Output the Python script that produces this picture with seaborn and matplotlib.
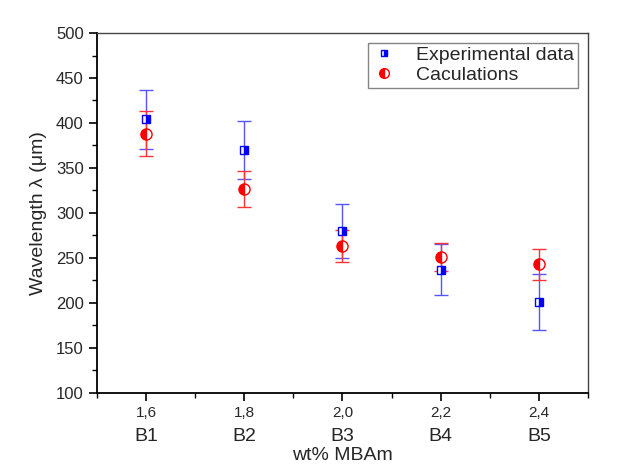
import numpy as np
import matplotlib.pyplot as plt
import seaborn as sns
from matplotlib.lines import Line2D
from matplotlib.ticker import MultipleLocator
from matplotlib.transforms import blended_transform_factory

# data
wt_mbam = [1.6, 1.8, 2.0, 2.2, 2.4]
tick_labels = ["1,6", "1,8", "2,0", "2,2", "2,4"]
sample_names = ["B1", "B2", "B3", "B4", "B5"]
exp_vals = [404, 370, 280, 237, 201]
exp_err = [33, 32, 30, 28, 31]
calc_vals = [388, 327, 263, 251, 243]
calc_err = [25, 20, 18, 16, 17]

sns.set_theme(style="ticks")
plt.rcParams['font.family'] = ['Liberation Sans', 'DejaVu Sans']

fig = plt.figure(figsize=(6.17, 4.65), dpi=100)
ax = fig.add_axes([0.157, 0.155, 0.796, 0.774])

ax.errorbar(wt_mbam, exp_vals, yerr=exp_err, fmt='s', color='#0000ff',
            ecolor='#5555ff', elinewidth=1.0, capsize=5, capthick=1.0,
            markersize=6, fillstyle='right', markerfacecoloralt='white',
            markeredgewidth=1.0, zorder=3)
ax.errorbar(wt_mbam, calc_vals, yerr=calc_err, fmt='o', color='#ff0000',
            ecolor='#ff3333', elinewidth=1.0, capsize=5, capthick=1.0,
            markersize=8, fillstyle='left', markerfacecoloralt='white',
            markeredgewidth=1.0, zorder=3)

ax.set_xlim(1.5, 2.5)
ax.set_ylim(100, 500)
ax.xaxis.set_minor_locator(MultipleLocator(0.1))
ax.yaxis.set_major_locator(MultipleLocator(50))
ax.yaxis.set_minor_locator(MultipleLocator(25))
ax.set_xticks(wt_mbam)
ax.set_xticklabels(tick_labels, fontsize=11)
ax.tick_params(axis='y', labelsize=12)
ax.tick_params(which='major', direction='out', length=6, width=1.2, color='black')
ax.tick_params(which='minor', direction='out', length=3.5, width=1.0, color='black')
ax.tick_params(top=False, right=False, which='both')

for side in ['left', 'bottom']:
    ax.spines[side].set_linewidth(1.3)
    ax.spines[side].set_color('black')
for side in ['top', 'right']:
    ax.spines[side].set_linewidth(1.0)
    ax.spines[side].set_color('#444444')

# second row of x labels: sample names
trans = blended_transform_factory(ax.transData, ax.transAxes)
for x, name in zip(wt_mbam, sample_names):
    ax.text(x, -0.12, name, transform=trans, ha='center', va='center', fontsize=14)

ax.set_ylabel("Wavelength λ (μm)", fontsize=14, labelpad=6)
ax.set_xlabel("wt% MBAm", fontsize=14, labelpad=19)

handles = [
    Line2D([], [], linestyle='', marker='s', color='#0000ff', markersize=5,
           fillstyle='right', markerfacecoloralt='white', label='Experimental data'),
    Line2D([], [], linestyle='', marker='o', color='#ff0000', markersize=7,
           fillstyle='left', markerfacecoloralt='white', label='Caculations'),
]
leg = ax.legend(handles=handles, loc='upper right', fontsize=14, frameon=True,
                fancybox=False, edgecolor='#666666', borderpad=0.2,
                handletextpad=1.0, labelspacing=0.1, borderaxespad=0.5,
                handlelength=1.3)
leg.get_frame().set_linewidth(1.0)

fig.savefig("out.png", dpi=100, facecolor='white')
